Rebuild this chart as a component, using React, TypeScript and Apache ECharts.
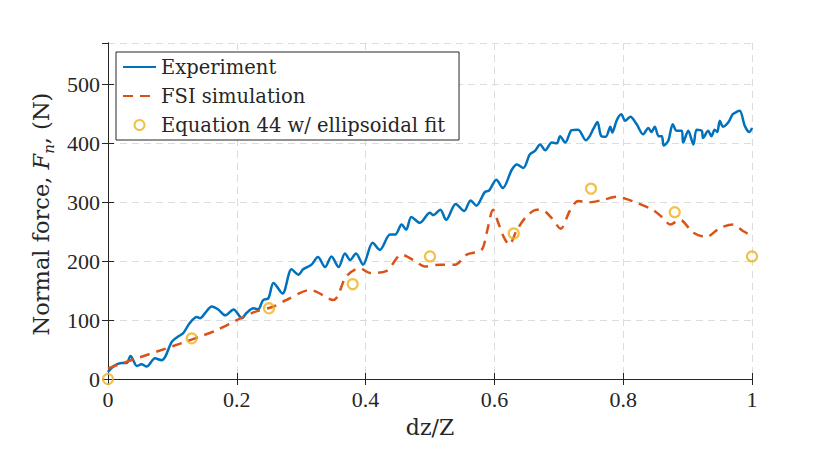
import React, { useEffect, useRef } from "react";
import * as echarts from "echarts";

const expX = [0, 0.008, 0.021, 0.029, 0.035, 0.045, 0.052, 0.06, 0.073, 0.083, 0.089, 0.099, 0.109, 0.117, 0.127, 0.138, 0.143, 0.151, 0.161, 0.171, 0.182, 0.195, 0.208, 0.215, 0.226, 0.233, 0.241, 0.249, 0.257, 0.271, 0.285, 0.296, 0.303, 0.316, 0.326, 0.337, 0.347, 0.358, 0.368, 0.376, 0.385, 0.396, 0.411, 0.422, 0.438, 0.446, 0.456, 0.463, 0.471, 0.484, 0.5, 0.505, 0.516, 0.525, 0.54, 0.553, 0.563, 0.572, 0.585, 0.592, 0.603, 0.613, 0.627, 0.635, 0.645, 0.655, 0.663, 0.671, 0.679, 0.689, 0.697, 0.702, 0.71, 0.72, 0.73, 0.742, 0.748, 0.754, 0.76, 0.766, 0.773, 0.78, 0.783, 0.79, 0.797, 0.803, 0.811, 0.821, 0.831, 0.839, 0.844, 0.849, 0.855, 0.86, 0.863, 0.87, 0.877, 0.883, 0.891, 0.893, 0.901, 0.909, 0.914, 0.922, 0.924, 0.932, 0.937, 0.942, 0.946, 0.95, 0.955, 0.963, 0.97, 0.976, 0.981, 0.989, 0.996, 1.0];
const expY = [12, 21, 27, 27, 39, 22, 25, 21, 35, 32, 38, 63, 72, 78, 95, 105, 103, 112, 123, 118, 108, 118, 103, 112, 120, 118, 134, 137, 163, 145, 186, 177, 186, 194, 207, 190, 208, 190, 213, 202, 213, 194, 231, 219, 245, 245, 262, 253, 275, 265, 282, 278, 287, 270, 297, 285, 303, 294, 317, 320, 338, 324, 355, 364, 358, 381, 387, 398, 388, 401, 400, 412, 401, 422, 423, 405, 412, 425, 436, 412, 411, 428, 418, 439, 449, 438, 445, 432, 415, 426, 419, 428, 412, 412, 396, 404, 432, 421, 421, 401, 421, 398, 423, 421, 409, 421, 412, 423, 419, 438, 428, 435, 449, 453, 455, 429, 419, 426];

const fsiX = [0, 0.039, 0.091, 0.112, 0.143, 0.169, 0.2, 0.226, 0.257, 0.277, 0.314, 0.35, 0.37, 0.391, 0.407, 0.432, 0.456, 0.474, 0.492, 0.516, 0.539, 0.557, 0.58, 0.588, 0.598, 0.606, 0.614, 0.623, 0.635, 0.65, 0.666, 0.676, 0.689, 0.703, 0.717, 0.73, 0.748, 0.769, 0.79, 0.8, 0.821, 0.846, 0.862, 0.873, 0.888, 0.909, 0.929, 0.95, 0.971, 0.986, 1.0];
const fsiY = [18, 33, 52, 60, 72, 83, 100, 113, 123, 134, 151, 134, 174, 188, 180, 183, 211, 202, 191, 194, 194, 211, 219, 248, 287, 265, 242, 228, 253, 276, 287, 286, 273, 255, 285, 302, 300, 304, 309, 307, 299, 287, 273, 262, 270, 248, 241, 256, 262, 251, 243];

const eqX = [0, 0.13, 0.25, 0.38, 0.5, 0.63, 0.75, 0.88, 1.0];
const eqY = [0, 69, 120, 161, 208, 247, 323, 283, 208];

const xTicks = [0, 0.2, 0.4, 0.6, 0.8, 1];
const yTicks = [0, 100, 200, 300, 400, 500];

const seriesNames = ["Experiment", "FSI simulation", "Equation 44 w/ ellipsoidal fit"];

const FONT = "Liberation Serif";
const LFONT = "DejaVu Serif";
const INK = "#262626";

export default function App() {
  const ref = useRef<HTMLDivElement>(null);
  useEffect(() => {
    if (!ref.current) return;
    const chart = echarts.init(ref.current, undefined, { renderer: "svg" });
    const xInterval = xTicks[1] - xTicks[0];
    const yInterval = yTicks[1] - yTicks[0];
    const baseX = {
      type: "value" as const,
      min: xTicks[0],
      max: xTicks[xTicks.length - 1],
      interval: xInterval,
    };
    const baseY = {
      type: "value" as const,
      min: yTicks[0],
      max: 570,
      interval: yInterval,
    };
    const axisLine = { show: true, lineStyle: { color: INK, width: 1 } };
    const tick = { show: true, inside: true, length: 6, lineStyle: { color: INK, width: 1 } };
    const grid = { show: true, lineStyle: { color: "#dcdcdc", width: 1, type: [7, 5] } };
    const hideSym = { opacity: 0, color: "rgba(0,0,0,0)", borderWidth: 0 };
    chart.setOption({
      animation: false,
      backgroundColor: "#ffffff",
      textStyle: { fontFamily: FONT },
      grid: { left: 108, right: 78, top: 43, bottom: 78, containLabel: false },
      legend: {
        orient: "vertical",
        left: 116,
        top: 52,
        data: [
          { name: seriesNames[0], itemStyle: hideSym },
          { name: seriesNames[1], itemStyle: hideSym },
          { name: seriesNames[2] },
        ],
        backgroundColor: "#ffffff",
        borderColor: INK,
        borderWidth: 1,
        borderRadius: 0,
        padding: [5, 14, 5, 6],
        itemGap: 9,
        itemWidth: 33,
        itemHeight: 10,
        textStyle: { fontFamily: LFONT, fontSize: 19.5, color: INK, lineHeight: 20 },
      },
      xAxis: [
        {
          ...baseX,
          position: "bottom",
          name: "dz/Z",
          nameLocation: "middle",
          nameGap: 37,
          nameTextStyle: { fontFamily: LFONT, fontSize: 22, color: INK },
          axisLine,
          axisTick: tick,
          axisLabel: { show: true, margin: 9, fontFamily: FONT, fontSize: 22, color: INK },
          splitLine: grid,
        },
        {
          ...baseX,
          position: "top",
          axisLine,
          axisTick: tick,
          axisLabel: { show: false },
          splitLine: { show: false },
        },
      ],
      yAxis: [
        {
          ...baseY,
          position: "left",
          name: "Normal force, {it|F}{sub|n}, (N)",
          nameLocation: "middle",
          nameGap: 50,
          nameRotate: 90,
          nameTextStyle: {
            fontFamily: LFONT,
            fontSize: 22.5,
            color: INK,
            lineHeight: 30,
            padding: [0, 6, 0, 0],
            rich: {
              it: { fontFamily: LFONT, fontSize: 22.5, fontStyle: "italic", color: INK, lineHeight: 30 },
              sub: { fontFamily: LFONT, fontSize: 15, fontStyle: "italic", color: INK, lineHeight: 15, verticalAlign: "bottom" },
            },
          },
          axisLine,
          axisTick: tick,
          axisLabel: { show: true, margin: 8, fontFamily: FONT, fontSize: 22, color: INK, showMaxLabel: false },
          splitLine: grid,
        },
        {
          ...baseY,
          position: "right",
          axisLine,
          axisTick: tick,
          axisLabel: { show: false },
          splitLine: { show: false },
        },
      ],
      series: [
        {
          name: seriesNames[0],
          type: "line",
          xAxisIndex: 0,
          yAxisIndex: 0,
          symbol: "none",
          smooth: 0.3,
          data: expX.map((x, i) => [x, expY[i]]),
          lineStyle: { color: "#0072BD", width: 2.5 },
          itemStyle: { color: "#0072BD" },
          z: 3,
        },
        {
          name: seriesNames[1],
          type: "line",
          xAxisIndex: 0,
          yAxisIndex: 0,
          symbol: "none",
          smooth: 0.3,
          data: fsiX.map((x, i) => [x, fsiY[i]]),
          lineStyle: { color: "#D95319", width: 2.5, type: [10, 7] },
          itemStyle: { color: "#D95319" },
          z: 4,
        },
        {
          name: seriesNames[2],
          type: "scatter",
          xAxisIndex: 0,
          yAxisIndex: 0,
          symbol: "circle",
          symbolSize: 10,
          data: eqX.map((x, i) => [x, eqY[i]]),
          itemStyle: { color: "rgba(255,255,255,0)", borderColor: "#EDB120", borderWidth: 2.2 },
          z: 5,
        },
      ],
    });
    return () => chart.dispose();
  }, []);
  return <div ref={ref} style={{ position: "fixed", left: 0, top: 0, width: 830, height: 457 }} />;
}
